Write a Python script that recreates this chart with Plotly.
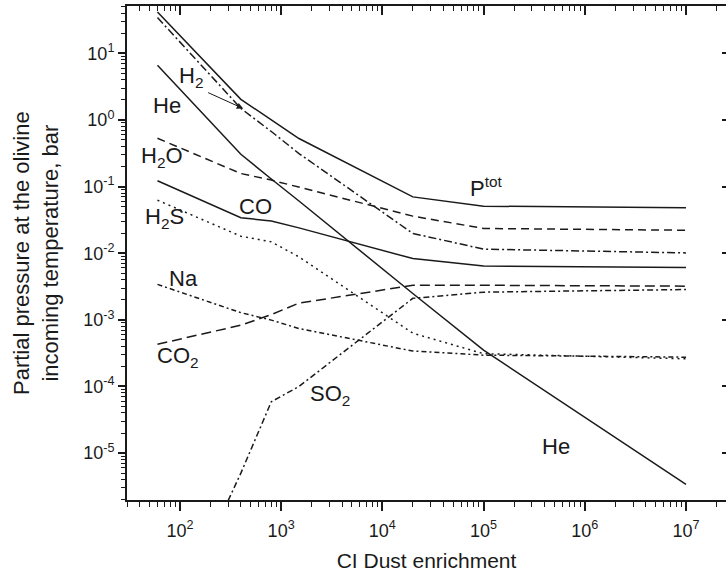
import numpy as np
import plotly.graph_objects as go

# ---------------- data ----------------
dust = [60, 400, 800, 1500, 2e4, 1e5, 1e7]

p_tot = [41.7, 2.04, 1.0, 0.526, 0.070, 0.0508, 0.0479]
p_h2 = [34.4, 1.49, 0.67, 0.313, 0.0198, 0.0115, 0.0101]
p_he = [6.6, 0.305, 0.13, 0.0607, 2.48e-3, 3.5e-4, 3.4e-6]
p_h2o = [0.53, 0.157, 0.125, 0.098, 0.036, 0.0235, 0.0221]
p_co = [0.122, 0.034, 0.0305, 0.024, 0.0083, 0.0064, 0.0061]
p_h2s = [0.0625, 0.018, 0.0148, 8.8e-3, 6.3e-4, 3.1e-4, 2.6e-4]
p_na = [3.4e-3, 1.28e-3, 9.9e-4, 7.4e-4, 3.4e-4, 2.95e-4, 2.75e-4]
p_co2 = [4.3e-4, 8.3e-4, 1.2e-3, 1.78e-3, 3.3e-3, 3.3e-3, 3.2e-3]
p_so2 = [1e-8, 5e-6, 5.9e-5, 1.0e-4, 2.1e-3, 2.6e-3, 2.85e-3]

x_tick_exp = [2, 3, 4, 5, 6, 7]
y_tick_exp = [-5, -4, -3, -2, -1, 0, 1]

FONT = "Liberation Sans, Arial, sans-serif"
BLACK = "#1a1a1a"

series = [
    (p_tot, "solid"),
    (p_h2, "8px,3px,2px,3px"),
    (p_he, "solid"),
    (p_h2o, "8px,5px"),
    (p_co, "solid"),
    (p_h2s, "2px,4px"),
    (p_na, "5px,3px,2px,3px"),
    (p_co2, "10px,5px"),
    (p_so2, "6px,3px,2px,3px"),
]

fig = go.Figure()
for vals, dash in series:
    fig.add_trace(go.Scatter(x=dust, y=vals, mode="lines",
                             line=dict(color=BLACK, width=1.5, dash=dash),
                             showlegend=False, hoverinfo="skip"))

# invisible trace to activate the mirrored axes
fig.add_trace(go.Scatter(x=[dust[0]], y=[p_tot[0]], xaxis="x2", yaxis="y2",
                         mode="markers", marker=dict(opacity=0), showlegend=False,
                         hoverinfo="skip"))

xr = [np.log10(30), 2 + (726 - 180) / 101.2]
yr = [(119.7 - 500) / 66.67, (119.7 - 5.7) / 66.67]

x_major = [10.0 ** e for e in x_tick_exp]
x_minor = [m * 10.0 ** e for e in range(1, 8) for m in range(2, 10)]
y_major = [10.0 ** e for e in y_tick_exp]
y_minor = [m * 10.0 ** e for e in range(-6, 2) for m in range(2, 10)]

fig.update_layout(
    width=726, height=576,
    margin=dict(l=127, r=0, t=6, b=76),
    paper_bgcolor="white", plot_bgcolor="white",
    font=dict(family=FONT, color=BLACK, size=18),
    xaxis=dict(type="log", range=xr, showgrid=False, zeroline=False,
               showline=True, linecolor=BLACK, linewidth=2,
               ticks="outside", ticklen=9, tickwidth=1.5, tickcolor=BLACK,
               tickmode="array", tickvals=x_major,
               ticktext=[f"10<sup>{e}</sup>" for e in x_tick_exp],
               tickfont=dict(size=18, family=FONT), ticklabelstandoff=4,
               minor=dict(tickmode="array", tickvals=x_minor, ticks="outside",
                          ticklen=5, tickwidth=1.2, tickcolor=BLACK, showgrid=False),
               title=dict(text="CI Dust enrichment", font=dict(size=21, family=FONT),
                          standoff=14)),
    xaxis2=dict(type="log", range=xr, overlaying="x", side="top", showgrid=False,
                zeroline=False, showline=True, linecolor=BLACK, linewidth=2,
                ticks="inside", ticklen=9, tickwidth=1.5, tickcolor=BLACK,
                tickmode="array", tickvals=x_major, showticklabels=False,
                minor=dict(tickmode="array", tickvals=x_minor, ticks="inside",
                           ticklen=5, tickwidth=1.2, tickcolor=BLACK, showgrid=False)),
    yaxis=dict(type="log", range=yr, showgrid=False, zeroline=False,
               showline=True, linecolor=BLACK, linewidth=2,
               ticks="outside", ticklen=7, tickwidth=1.5, tickcolor=BLACK,
               tickmode="array", tickvals=y_major,
               ticktext=[f"10<sup>{e}</sup>" for e in y_tick_exp],
               tickfont=dict(size=18, family=FONT),
               minor=dict(tickmode="array", tickvals=y_minor, ticks="outside",
                          ticklen=4, tickwidth=1.2, tickcolor=BLACK, showgrid=False)),
    yaxis2=dict(type="log", range=yr, overlaying="y", side="right", showgrid=False,
                zeroline=False, showline=False, ticks="inside", ticklen=4,
                tickwidth=1.5, tickcolor=BLACK, tickmode="array", tickvals=y_major,
                showticklabels=False),
)


def lx(px):
    return 2 + (px - 180) / 101.2


def ly(py):
    return (119.7 - py) / 66.67


labels = [
    ("H<sub>2</sub>", 191.5, 77),
    ("He", 167.5, 105),
    ("H<sub>2</sub>O", 162.5, 157),
    ("CO", 255.5, 206),
    ("H<sub>2</sub>S", 165, 218),
    ("Na", 184, 278.5),
    ("CO<sub>2</sub>", 178.5, 357),
    ("SO<sub>2</sub>", 330, 395),
    ("P<sup>tot</sup>", 486.5, 187),
    ("He", 556, 446),
]
for txt, px, py in labels:
    fig.add_annotation(x=lx(px), y=ly(py), xref="x", yref="y", text=txt,
                       showarrow=False, xanchor="center", yanchor="middle",
                       font=dict(size=22, family=FONT, color=BLACK))

# arrow from the H2 label to its curve
fig.add_annotation(x=lx(243.3), y=ly(108.3), xref="x", yref="y", text="",
                   showarrow=True, ax=206.7 - 243.3, ay=91.7 - 108.3,
                   arrowhead=2, arrowsize=1.3, arrowwidth=1, arrowcolor=BLACK)

# y-axis title
fig.add_annotation(x=0, y=0.5, xref="paper", yref="paper",
                   text="Partial pressure at the olivine<br>incoming temperature, bar",
                   textangle=-90, showarrow=False, xanchor="center", yanchor="middle",
                   xshift=-91, font=dict(size=22, family=FONT, color=BLACK))

fig.write_html("out.html")
